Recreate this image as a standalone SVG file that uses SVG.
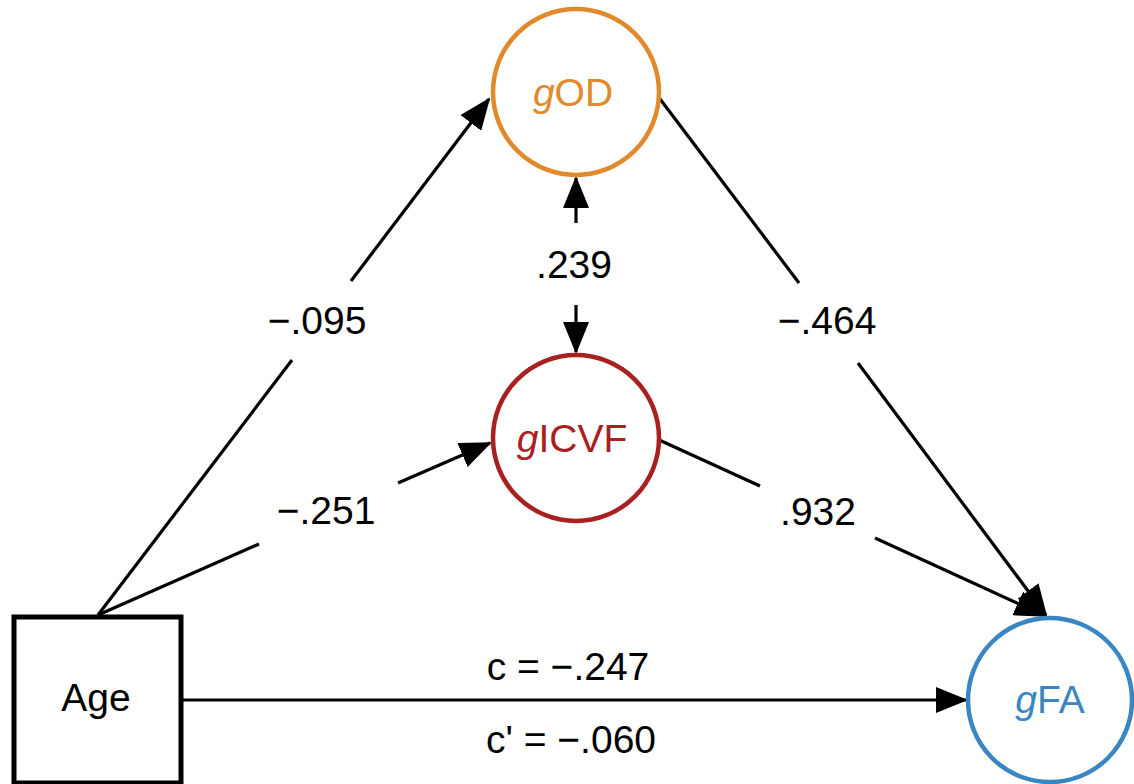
<svg xmlns="http://www.w3.org/2000/svg" width="1134" height="784" viewBox="0 0 1134 784">
  <style>
    text { font-family: "Liberation Sans", Arial, Helvetica, sans-serif; font-size: 39px; text-anchor: middle; fill: #000; }
    .g { font-style: italic; }
    .edge { fill: none; stroke: #000; stroke-width: 3.2; }
    .node { fill: #fff; stroke-width: 4.5; }
  </style>
  <defs>
    <marker id="arr" markerUnits="userSpaceOnUse" markerWidth="34" markerHeight="26" viewBox="0 0 34 26" refX="30" refY="13" orient="auto">
      <path d="M0,0 L32,13 L0,26 z" fill="#000"/>
    </marker>
  </defs>
  <rect width="1134" height="784" fill="#fff"/>

  <g id="connectors">
    <!-- Age -> gOD -->
    <path class="edge" d="M98,615 L292,360"/>
    <path class="edge" d="M351,281 L489,99" marker-end="url(#arr)"/>
    <!-- Age -> gICVF -->
    <path class="edge" d="M98,615 L259,544"/>
    <path class="edge" d="M398,483 L490,443" marker-end="url(#arr)"/>
    <!-- gOD -> gFA -->
    <path class="edge" d="M657,95 L799,283"/>
    <path class="edge" d="M858,363 L1046,615" marker-end="url(#arr)"/>
    <!-- gICVF -> gFA -->
    <path class="edge" d="M657,439 L760,486"/>
    <path class="edge" d="M875,538 L1045,616" marker-end="url(#arr)"/>
    <!-- Age -> gFA -->
    <path class="edge" d="M181,700 L966,700" marker-end="url(#arr)"/>
    <!-- gOD <-> gICVF -->
    <path class="edge" d="M576,223 L576,178" marker-end="url(#arr)"/>
    <path class="edge" d="M576,305 L576,352" marker-end="url(#arr)"/>
    <!-- labels -->
    <text x="317" y="334">−.095</text>
    <text x="326" y="524">−.251</text>
    <text x="827" y="334">−.464</text>
    <text x="818" y="525">.932</text>
    <text x="574" y="278">.239</text>
    <text x="568" y="680">c = −.247</text>
    <text x="571" y="753">c' = −.060</text>
  </g>

  <g id="node-age">
    <rect x="14" y="617" width="167" height="166" fill="#fff" stroke="#000" stroke-width="5"/>
    <text x="96" y="711">Age</text>
  </g>
  <g id="node-god">
    <circle class="node" cx="576" cy="92" r="83" stroke="#E08A2C"/>
    <text x="573" y="106" style="fill:#E08A2C"><tspan class="g">g</tspan>OD</text>
  </g>
  <g id="node-gicvf">
    <circle class="node" cx="576" cy="438" r="83" stroke="#A8201F"/>
    <text x="572" y="452" style="fill:#A8201F"><tspan class="g">g</tspan>ICVF</text>
  </g>
  <g id="node-gfa">
    <circle class="node" cx="1050" cy="700" r="82" stroke="#3A86C3"/>
    <text x="1050" y="713" style="fill:#3A86C3"><tspan class="g">g</tspan>FA</text>
  </g>
</svg>
